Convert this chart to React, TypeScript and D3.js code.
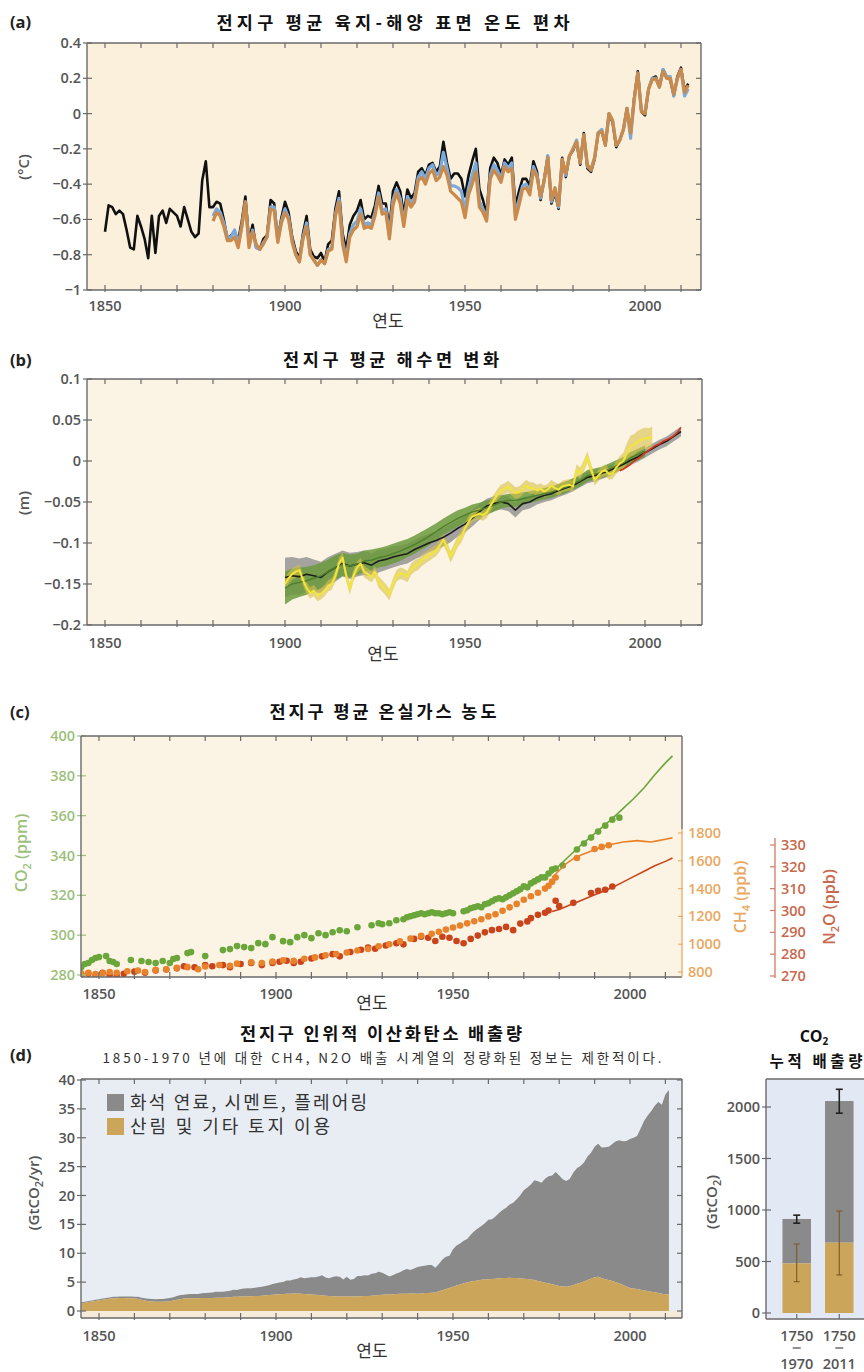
import React from "react";
import * as d3 from "d3";

// ---------- (a) global mean land-ocean surface temperature anomaly (°C) ----------
const hadcrutStart = 1850;
const hadcrut = [
  -0.67, -0.52, -0.53, -0.57, -0.55, -0.57, -0.66, -0.76, -0.77, -0.58,
  -0.64, -0.71, -0.82, -0.58, -0.79, -0.58, -0.55, -0.62, -0.54, -0.56,
  -0.58, -0.64, -0.53, -0.60, -0.67, -0.70, -0.68, -0.38, -0.27, -0.53,
  -0.53, -0.50, -0.51, -0.60, -0.71, -0.69, -0.67, -0.72, -0.61, -0.47,
  -0.72, -0.63, -0.76, -0.77, -0.71, -0.69, -0.49, -0.51, -0.71, -0.59,
  -0.50, -0.56, -0.70, -0.78, -0.82, -0.68, -0.58, -0.77, -0.81, -0.82,
  -0.79, -0.84, -0.74, -0.72, -0.54, -0.44, -0.68, -0.77, -0.63, -0.58,
  -0.55, -0.49, -0.60, -0.58, -0.59, -0.52, -0.41, -0.51, -0.51, -0.65,
  -0.44, -0.39, -0.44, -0.57, -0.43, -0.48, -0.45, -0.33, -0.31, -0.35,
  -0.29, -0.28, -0.33, -0.30, -0.16, -0.28, -0.37, -0.34, -0.34, -0.37,
  -0.47, -0.35, -0.27, -0.20, -0.43, -0.49, -0.57, -0.31, -0.25, -0.28,
  -0.35, -0.26, -0.29, -0.25, -0.52, -0.44, -0.37, -0.37, -0.41, -0.27,
  -0.33, -0.49, -0.37, -0.24, -0.51, -0.45, -0.54, -0.25, -0.36, -0.24,
  -0.21, -0.16, -0.29, -0.11, -0.31, -0.33, -0.26, -0.11, -0.10, -0.18,
  0.0, -0.05, -0.19, -0.15, -0.09, 0.03, -0.12, 0.09, 0.24, 0.01,
  -0.01, 0.14, 0.2, 0.21, 0.15, 0.25, 0.21, 0.19, 0.1, 0.21,
  0.26, 0.13, 0.17,
];
const laterStart = 1880;
const noaaTemp = [
  -0.61, -0.56, -0.58, -0.64, -0.72, -0.72, -0.70, -0.76, -0.64, -0.50,
  -0.76, -0.67, -0.74, -0.77, -0.74, -0.70, -0.54, -0.55, -0.73, -0.62,
  -0.56, -0.60, -0.73, -0.80, -0.84, -0.71, -0.64, -0.80, -0.83, -0.86,
  -0.83, -0.85, -0.78, -0.77, -0.58, -0.50, -0.74, -0.84, -0.70, -0.66,
  -0.64, -0.57, -0.65, -0.64, -0.65, -0.58, -0.47, -0.57, -0.56, -0.71,
  -0.52, -0.45, -0.51, -0.64, -0.49, -0.53, -0.50, -0.38, -0.36, -0.40,
  -0.34, -0.32, -0.38, -0.36, -0.30, -0.35, -0.44, -0.46, -0.48, -0.50,
  -0.59, -0.46, -0.40, -0.33, -0.53, -0.56, -0.61, -0.37, -0.32, -0.35,
  -0.39, -0.30, -0.33, -0.31, -0.60, -0.52, -0.43, -0.42, -0.46, -0.32,
  -0.36, -0.47, -0.38, -0.25, -0.49, -0.42, -0.52, -0.26, -0.34, -0.24,
  -0.20, -0.16, -0.28, -0.12, -0.29, -0.32, -0.25, -0.11, -0.10, -0.18,
  0.0, -0.04, -0.18, -0.15, -0.09, 0.03, -0.11, 0.08, 0.23, 0.01,
  0.0, 0.14, 0.19, 0.2, 0.15, 0.24, 0.2, 0.2, 0.11, 0.2,
  0.25, 0.12, 0.16,
];
const gissTemp = [
  -0.58, -0.54, -0.56, -0.62, -0.70, -0.70, -0.66, -0.74, -0.64, -0.50,
  -0.74, -0.66, -0.76, -0.77, -0.73, -0.70, -0.53, -0.53, -0.72, -0.61,
  -0.54, -0.59, -0.72, -0.80, -0.84, -0.70, -0.62, -0.80, -0.83, -0.86,
  -0.83, -0.85, -0.77, -0.76, -0.57, -0.48, -0.72, -0.82, -0.68, -0.63,
  -0.61, -0.54, -0.63, -0.62, -0.63, -0.56, -0.45, -0.55, -0.54, -0.69,
  -0.49, -0.43, -0.48, -0.62, -0.47, -0.51, -0.48, -0.36, -0.33, -0.37,
  -0.31, -0.29, -0.35, -0.33, -0.22, -0.31, -0.41, -0.41, -0.42, -0.44,
  -0.55, -0.42, -0.35, -0.28, -0.50, -0.54, -0.60, -0.35, -0.29, -0.32,
  -0.37, -0.28, -0.31, -0.28, -0.57, -0.49, -0.41, -0.40, -0.44, -0.30,
  -0.35, -0.48, -0.38, -0.24, -0.50, -0.43, -0.53, -0.26, -0.35, -0.24,
  -0.20, -0.15, -0.28, -0.12, -0.30, -0.32, -0.25, -0.11, -0.09, -0.17,
  0.0, -0.04, -0.18, -0.15, -0.09, 0.03, -0.14, 0.08, 0.23, 0.02,
  0.0, 0.14, 0.2, 0.2, 0.15, 0.25, 0.21, 0.21, 0.1, 0.2,
  0.25, 0.1, 0.14,
];
const tempTicks = [0.4, 0.2, 0, -0.2, -0.4, -0.6, -0.8, -1];

// ---------- (b) global mean sea level change (m): [year, value, half-width] ----------
type Band = [number, number, number];
const seaBlack: Band[] = [
  [1900, -0.142, 0.024], [1902, -0.140, 0.023], [1904, -0.141, 0.022], [1906, -0.138, 0.021],
  [1908, -0.140, 0.02], [1910, -0.142, 0.019], [1912, -0.135, 0.018], [1914, -0.130, 0.017],
  [1916, -0.125, 0.016], [1918, -0.128, 0.016], [1920, -0.126, 0.015], [1922, -0.124, 0.015],
  [1924, -0.127, 0.014], [1926, -0.122, 0.014], [1928, -0.120, 0.013], [1930, -0.117, 0.013],
  [1932, -0.115, 0.012], [1934, -0.113, 0.012], [1936, -0.108, 0.012], [1938, -0.104, 0.012],
  [1940, -0.100, 0.011], [1942, -0.097, 0.011], [1944, -0.093, 0.011], [1946, -0.088, 0.011],
  [1948, -0.082, 0.010], [1950, -0.077, 0.010], [1952, -0.070, 0.010], [1954, -0.062, 0.010],
  [1956, -0.055, 0.009], [1958, -0.052, 0.009], [1960, -0.050, 0.009], [1962, -0.052, 0.009],
  [1964, -0.060, 0.009], [1966, -0.052, 0.008], [1968, -0.050, 0.008], [1970, -0.045, 0.008],
  [1972, -0.042, 0.008], [1974, -0.040, 0.008], [1976, -0.036, 0.008], [1978, -0.033, 0.008],
  [1980, -0.030, 0.007], [1982, -0.025, 0.007], [1984, -0.020, 0.007], [1986, -0.018, 0.007],
  [1988, -0.015, 0.007], [1990, -0.012, 0.007], [1992, -0.008, 0.006], [1994, -0.004, 0.006],
  [1996, 0.001, 0.006], [1998, 0.005, 0.006], [2000, 0.010, 0.006], [2002, 0.015, 0.006],
  [2004, 0.020, 0.006], [2006, 0.024, 0.006], [2008, 0.030, 0.006], [2010, 0.036, 0.006],
];
const seaGreen: Band[] = [
  [1900, -0.155, 0.020], [1902, -0.150, 0.019], [1904, -0.148, 0.018], [1906, -0.146, 0.017],
  [1908, -0.143, 0.016], [1910, -0.140, 0.016], [1912, -0.135, 0.015], [1914, -0.130, 0.015],
  [1916, -0.126, 0.014], [1918, -0.128, 0.014], [1920, -0.126, 0.013], [1922, -0.122, 0.013],
  [1924, -0.121, 0.013], [1926, -0.118, 0.012], [1928, -0.116, 0.012], [1930, -0.113, 0.012],
  [1932, -0.110, 0.012], [1934, -0.106, 0.011], [1936, -0.102, 0.011], [1938, -0.097, 0.011],
  [1940, -0.092, 0.011], [1942, -0.086, 0.010], [1944, -0.080, 0.010], [1946, -0.075, 0.010],
  [1948, -0.070, 0.010], [1950, -0.066, 0.009], [1952, -0.062, 0.009], [1954, -0.060, 0.009],
  [1956, -0.057, 0.009], [1958, -0.054, 0.008], [1960, -0.050, 0.008], [1962, -0.048, 0.008],
  [1964, -0.048, 0.008], [1966, -0.046, 0.008], [1968, -0.044, 0.007], [1970, -0.042, 0.007],
  [1972, -0.040, 0.007], [1974, -0.038, 0.007], [1976, -0.035, 0.007], [1978, -0.032, 0.007],
  [1980, -0.028, 0.007], [1982, -0.024, 0.007], [1984, -0.018, 0.007], [1986, -0.016, 0.007],
  [1988, -0.014, 0.007], [1990, -0.010, 0.007], [1992, -0.006, 0.007], [1994, -0.002, 0.007],
  [1996, 0.004, 0.007], [1998, 0.008, 0.007], [2000, 0.012, 0.007],
];
const seaYellow: Band[] = [
  [1900, -0.150, 0.007], [1901, -0.143, 0.007], [1902, -0.138, 0.007], [1903, -0.135, 0.007],
  [1904, -0.133, 0.007], [1905, -0.145, 0.007], [1906, -0.155, 0.007], [1907, -0.161, 0.007],
  [1908, -0.158, 0.007], [1909, -0.164, 0.007], [1910, -0.162, 0.007], [1911, -0.158, 0.007],
  [1912, -0.152, 0.007], [1913, -0.150, 0.007], [1914, -0.140, 0.007], [1915, -0.125, 0.007],
  [1916, -0.118, 0.007], [1917, -0.140, 0.007], [1918, -0.156, 0.007], [1919, -0.140, 0.007],
  [1920, -0.130, 0.007], [1921, -0.125, 0.007], [1922, -0.135, 0.007], [1923, -0.138, 0.007],
  [1924, -0.141, 0.007], [1925, -0.135, 0.007], [1926, -0.148, 0.007], [1927, -0.152, 0.007],
  [1928, -0.157, 0.007], [1929, -0.163, 0.007], [1930, -0.150, 0.007], [1931, -0.140, 0.007],
  [1932, -0.137, 0.007], [1933, -0.138, 0.007], [1934, -0.141, 0.007], [1935, -0.132, 0.007],
  [1936, -0.128, 0.007], [1937, -0.126, 0.007], [1938, -0.121, 0.007], [1939, -0.118, 0.007],
  [1940, -0.115, 0.007], [1941, -0.112, 0.007], [1942, -0.109, 0.007], [1943, -0.103, 0.007],
  [1944, -0.096, 0.007], [1945, -0.105, 0.007], [1946, -0.117, 0.007], [1947, -0.108, 0.007],
  [1948, -0.098, 0.007], [1949, -0.092, 0.007], [1950, -0.082, 0.007], [1951, -0.074, 0.007],
  [1952, -0.068, 0.007], [1953, -0.066, 0.007], [1954, -0.064, 0.007], [1955, -0.066, 0.007],
  [1956, -0.063, 0.007], [1957, -0.055, 0.007], [1958, -0.048, 0.007], [1959, -0.041, 0.007],
  [1960, -0.036, 0.007], [1961, -0.034, 0.007], [1962, -0.031, 0.007], [1963, -0.035, 0.007],
  [1964, -0.039, 0.007], [1965, -0.038, 0.007], [1966, -0.034, 0.007], [1967, -0.030, 0.007],
  [1968, -0.033, 0.007], [1969, -0.033, 0.007], [1970, -0.036, 0.007], [1971, -0.034, 0.007],
  [1972, -0.037, 0.007], [1973, -0.035, 0.007], [1974, -0.030, 0.007], [1975, -0.033, 0.007],
  [1976, -0.035, 0.007], [1977, -0.031, 0.007], [1978, -0.030, 0.007], [1979, -0.029, 0.007],
  [1980, -0.031, 0.007], [1981, -0.011, 0.007], [1982, -0.015, 0.007], [1983, -0.006, 0.007],
  [1984, 0.005, 0.007], [1985, -0.010, 0.007], [1986, -0.023, 0.007], [1987, -0.018, 0.007],
  [1988, -0.013, 0.007], [1989, -0.011, 0.007], [1990, -0.016, 0.007], [1991, -0.015, 0.007],
  [1992, -0.008, 0.008], [1993, -0.003, 0.009], [1994, 0.000, 0.010], [1995, 0.010, 0.012],
  [1996, 0.018, 0.013], [1997, 0.020, 0.013], [1998, 0.024, 0.013], [1999, 0.026, 0.013],
  [2000, 0.028, 0.013], [2001, 0.027, 0.013], [2002, 0.030, 0.012],
];
const seaSatellite: [number, number][] = [
  [1993, -0.012], [1994, -0.010], [1995, -0.007], [1996, -0.004], [1997, 0.0], [1998, 0.003],
  [1999, 0.006], [2000, 0.010], [2001, 0.013], [2002, 0.016], [2003, 0.019], [2004, 0.021],
  [2005, 0.024], [2006, 0.026], [2007, 0.028], [2008, 0.031], [2009, 0.035], [2010, 0.041],
];
const seaTicks = [0.1, 0.05, 0, -0.05, -0.1, -0.15, -0.2];

// ---------- (c) greenhouse gas concentrations ----------
type Pt = [number, number];
const co2Cores: Pt[] = [
  [1845, 284], [1846, 285.5], [1847, 286], [1848, 287.5], [1849, 288.5], [1850, 289], [1852, 289.5],
  [1853, 287], [1854, 286.5], [1855, 285.5], [1859, 287.5], [1862, 287], [1864, 286.5], [1866, 286],
  [1868, 287], [1870, 286], [1871, 288], [1872, 288.5], [1875, 291], [1876, 291.5], [1880, 289.5],
  [1885, 292.5], [1887, 293], [1889, 294.5], [1891, 294], [1893, 293.5], [1895, 296], [1897, 295.5],
  [1899, 299], [1902, 297], [1904, 296.5], [1906, 299], [1908, 300], [1910, 298.5], [1912, 301],
  [1914, 300], [1916, 301.5], [1918, 302.5], [1920, 302], [1923, 304], [1927, 305], [1929, 306],
  [1930, 305.5], [1932, 306], [1934, 307.5], [1936, 308], [1937, 309], [1938, 309.5], [1939, 310],
  [1940, 310.5], [1941, 311], [1942, 310.5], [1943, 311], [1944, 311.5], [1945, 311], [1946, 311],
  [1947, 310.5], [1948, 311], [1949, 311.5], [1950, 311], [1953, 312], [1954, 312.5], [1955, 313.5],
  [1956, 314], [1957, 314.5], [1958, 314], [1959, 315.5], [1960, 316], [1961, 317], [1962, 318],
  [1963, 318.5], [1964, 318], [1965, 319], [1966, 320], [1967, 321], [1968, 322], [1969, 323],
  [1970, 324.5], [1971, 324], [1972, 326], [1973, 327], [1974, 328], [1975, 329], [1976, 329],
  [1977, 331], [1978, 333], [1979, 333.5], [1981, 335], [1985, 343], [1987, 346], [1989, 349],
  [1991, 352], [1993, 355], [1995, 358], [1997, 359],
];
const co2Direct: Pt[] = [
  [1978, 331], [1980, 335], [1983, 340], [1986, 345], [1989, 349.5], [1992, 354], [1995, 358.5],
  [1998, 363.5], [2001, 368.5], [2004, 374], [2007, 380.5], [2010, 386.5], [2012, 390],
];
const ch4Cores: Pt[] = [
  [1845, 790], [1847, 795], [1849, 785], [1851, 790], [1853, 800], [1855, 795], [1858, 805],
  [1861, 810], [1863, 800], [1866, 815], [1869, 820], [1872, 830], [1875, 835], [1878, 820],
  [1880, 840], [1884, 850], [1887, 845], [1889, 860], [1893, 870], [1896, 865], [1899, 875],
  [1902, 885], [1905, 880], [1908, 895], [1911, 905], [1914, 920], [1917, 930], [1920, 940],
  [1923, 955], [1926, 965], [1929, 985], [1932, 1000], [1935, 1020], [1938, 1040], [1941, 1060],
  [1944, 1075], [1946, 1090], [1948, 1105], [1950, 1120], [1952, 1135], [1954, 1150], [1956, 1165],
  [1958, 1180], [1960, 1200], [1962, 1215], [1964, 1240], [1966, 1265], [1968, 1290], [1970, 1320],
  [1972, 1345], [1974, 1370], [1976, 1400], [1977, 1420], [1978, 1450], [1979, 1480], [1985, 1620],
  [1990, 1685], [1992, 1700], [1994, 1712],
];
const ch4Direct: Pt[] = [
  [1978, 1480], [1980, 1530], [1982, 1580], [1984, 1615], [1986, 1640], [1988, 1660], [1990, 1680],
  [1992, 1700], [1994, 1715], [1996, 1725], [1998, 1735], [2000, 1740], [2002, 1745], [2004, 1740],
  [2006, 1735], [2008, 1745], [2010, 1755], [2012, 1765],
];
const n2oCores: Pt[] = [
  [1845, 270.5], [1847, 271], [1849, 270], [1851, 271.5], [1853, 270.5], [1855, 270], [1857, 271],
  [1860, 272], [1863, 271.5], [1866, 272.5], [1869, 273], [1872, 273.5], [1874, 274.5], [1877, 274],
  [1880, 275], [1882, 274.5], [1885, 275], [1887, 274], [1890, 275.5], [1893, 276], [1896, 275],
  [1899, 276], [1901, 276.5], [1903, 277], [1905, 276], [1907, 276.5], [1910, 278], [1913, 279],
  [1916, 280], [1918, 279], [1921, 281], [1924, 282], [1926, 283], [1928, 282.5], [1931, 284],
  [1934, 285], [1936, 284.5], [1939, 287], [1941, 288], [1943, 287.5], [1945, 286], [1947, 288],
  [1949, 287.5], [1951, 286], [1953, 285], [1955, 287], [1957, 288.5], [1959, 290], [1961, 291],
  [1963, 291.5], [1965, 292.5], [1967, 291], [1969, 294], [1971, 295], [1972, 296.5], [1974, 298],
  [1976, 299], [1977, 300], [1979, 304.5], [1980, 302], [1984, 303.5], [1989, 308], [1991, 309],
  [1993, 309.5], [1995, 311],
];
const n2oDirect: Pt[] = [
  [1978, 299.5], [1980, 300.5], [1983, 302.5], [1986, 304.5], [1989, 306.5], [1992, 308.5],
  [1995, 310.5], [1998, 313], [2001, 315.5], [2004, 318], [2007, 320.5], [2010, 322.5], [2012, 324],
];
const co2Ticks = [400, 380, 360, 340, 320, 300, 280];
const ch4Ticks = [1800, 1600, 1400, 1200, 1000, 800];
const n2oTicks = [330, 320, 310, 300, 290, 280, 270];

// ---------- (d) anthropogenic CO2 emissions (GtCO2/yr), annual from 1845 ----------
const emisStart = 1845;
const fossilCement = [
  0.15, 0.16, 0.17, 0.17, 0.18,
  0.2, 0.2, 0.21, 0.22, 0.26, 0.26, 0.28, 0.28, 0.29, 0.3,
  0.33, 0.36, 0.36, 0.39, 0.41, 0.44, 0.45, 0.48, 0.49, 0.52,
  0.55, 0.6, 0.66, 0.7, 0.66, 0.72, 0.73, 0.74, 0.75, 0.81,
  0.87, 0.91, 0.97, 1.03, 1.03, 1.03, 1.05, 1.11, 1.22, 1.2,
  1.32, 1.39, 1.39, 1.37, 1.43, 1.51, 1.55, 1.62, 1.72, 1.86,
  1.96, 2.03, 2.07, 2.28, 2.27, 2.4, 2.54, 2.86, 2.73, 2.84,
  3.01, 3.06, 3.21, 3.47, 3.13, 3.07, 3.33, 3.47, 3.42, 2.95,
  3.41, 2.92, 3.05, 3.53, 3.52, 3.57, 3.55, 3.82, 3.82, 4.05,
  3.83, 3.45, 3.13, 3.3, 3.55, 3.72, 4.05, 4.26, 4.03, 4.3,
  4.61, 4.7, 4.72, 4.85, 4.81, 4.27, 4.75, 5.3, 5.6, 5.55,
  6.5, 6.95, 7.1, 7.35, 7.5, 8.1, 8.6, 9.0, 9.3, 9.75,
  10.3, 10.35, 10.75, 11.3, 11.8, 12.2, 12.7, 13.05, 13.65, 14.4,
  15.3, 15.85, 16.45, 17.3, 17.25, 17.15, 18.0, 18.55, 18.8, 19.55,
  19.1, 18.55, 18.3, 18.6, 19.5, 20.0, 20.2, 20.6, 21.4, 21.8,
  22.6, 23.0, 22.6, 22.85, 23.1, 23.7, 24.4, 24.75, 24.9, 25.2,
  25.8, 26.1, 26.5, 27.9, 29.4, 30.4, 31.3, 32.3, 33.1, 32.7,
  34.6, 35.4,
];
const landUse = [
  1.35, 1.45, 1.55, 1.65, 1.75,
  1.85, 1.95, 2.05, 2.1, 2.2, 2.2, 2.25, 2.25, 2.2, 2.2,
  2.15, 2.1, 1.95, 1.8, 1.7, 1.65, 1.6, 1.6, 1.6, 1.65,
  1.7, 1.8, 1.95, 2.05, 2.15, 2.2, 2.2, 2.2, 2.2, 2.25,
  2.25, 2.25, 2.25, 2.3, 2.3, 2.3, 2.35, 2.4, 2.45, 2.45,
  2.5, 2.5, 2.55, 2.55, 2.6, 2.6, 2.65, 2.7, 2.75, 2.8,
  2.85, 2.9, 2.95, 3.0, 3.0, 3.05, 3.05, 3.0, 2.95, 2.9,
  2.85, 2.8, 2.75, 2.7, 2.65, 2.6, 2.55, 2.55, 2.5, 2.5,
  2.5, 2.5, 2.5, 2.55, 2.55, 2.6, 2.6, 2.65, 2.7, 2.75,
  2.8, 2.85, 2.85, 2.9, 2.95, 3.0, 3.0, 3.0, 3.05, 3.05,
  3.0, 3.05, 3.1, 3.1, 3.15, 3.2, 3.4, 3.6, 3.8, 4.0,
  4.2, 4.4, 4.6, 4.8, 4.95, 5.1, 5.2, 5.3, 5.4, 5.45,
  5.5, 5.55, 5.6, 5.65, 5.7, 5.7, 5.75, 5.7, 5.7, 5.65,
  5.6, 5.55, 5.45, 5.35, 5.2, 5.05, 4.9, 4.8, 4.65, 4.5,
  4.35, 4.25, 4.2, 4.3, 4.5, 4.7, 4.9, 5.1, 5.35, 5.6,
  5.85, 5.95, 5.7, 5.5, 5.35, 5.2, 5.0, 4.8, 4.5, 4.25,
  4.0, 3.9, 3.8, 3.7, 3.55, 3.45, 3.35, 3.25, 3.1, 3.0,
  2.9, 2.85,
];
const emisTicks = [40, 35, 30, 25, 20, 15, 10, 5, 0];
const legendLabels = ["화석 연료, 시멘트, 플레어링", "산림 및 기타 토지 이용"];

// cumulative emissions (GtCO2)
const cumPeriods = [["1750", "1970"], ["1750", "2011"]];
const cumLand = [482, 683];
const cumFossil = [431, 1375];
const cumTotalRange = [[872, 950], [1940, 2172]];
const cumLandRange = [[304, 670], [369, 990]];
const cumTicks = [2000, 1500, 1000, 500, 0];

const decadeTicks = d3.range(1850, 2011, 10);
const yearLabels = [1850, 1900, 1950, 2000];

// ---------- styling ----------
const KR = "'Noto Sans CJK KR', 'Noto Sans', sans-serif";
const NUM = "'Open Sans', 'Noto Sans', sans-serif";
const AX = "#6a6a6a";
const TXT = "#555";
const GREEN = "#6aa63a";
const CH4C = "#e8832c";
const N2OC = "#c9441c";
const GRAY = "#8a8a8a";
const TAN = "#cba65a";
const fmt = d3.format("");

type Box = { l: number; r: number; t: number; b: number };

function Frame({ box, bg }: { box: Box; bg: string }) {
  return <rect x={box.l} y={box.t} width={box.r - box.l} height={box.b - box.t} fill={bg} />;
}
function Border({ box, sides = "lrtb" }: { box: Box; sides?: string }) {
  const { l, r, t, b } = box;
  return (
    <g stroke={AX} strokeWidth={1.4} fill="none">
      {sides.includes("l") && <line x1={l} x2={l} y1={t} y2={b} />}
      {sides.includes("r") && <line x1={r} x2={r} y1={t} y2={b} />}
      {sides.includes("t") && <line x1={l} x2={r} y1={t} y2={t} />}
      {sides.includes("b") && <line x1={l} x2={r} y1={b} y2={b} />}
    </g>
  );
}
function YearAxis({ x, box, labelY, titleX, titleY }: any) {
  return (
    <g>
      <g stroke={AX} strokeWidth={1.2}>
        {decadeTicks.map((yr) => (
          <g key={yr}>
            <line x1={x(yr)} x2={x(yr)} y1={box.t} y2={box.t + 5} />
            <line x1={x(yr)} x2={x(yr)} y1={box.b - 5} y2={box.b + 2} />
          </g>
        ))}
      </g>
      {yearLabels.map((yr) => (
        <text key={yr} x={x(yr)} y={labelY} textAnchor="middle" fontFamily={NUM} fontSize={14.5} fontWeight={600} fill={TXT}>
          {yr}
        </text>
      ))}
      <text x={titleX} y={titleY} textAnchor="middle" fontFamily={KR} fontSize={17} fill="#333">
        연도
      </text>
    </g>
  );
}
function ValueAxis({ y, ticks, box, color = TXT, tickColor = AX, right = true, format = fmt }: any) {
  return (
    <g>
      {ticks.map((v: number) => (
        <g key={v}>
          <line x1={box.l - 4} x2={box.l + 5} y1={y(v)} y2={y(v)} stroke={tickColor} strokeWidth={1.2} />
          {right && <line x1={box.r - 5} x2={box.r} y1={y(v)} y2={y(v)} stroke={AX} strokeWidth={1.2} />}
          <text x={box.l - 6} y={y(v) + 5} textAnchor="end" fontFamily={NUM} fontSize={14.5} fontWeight={600} fill={color}>
            {format(v)}
          </text>
        </g>
      ))}
    </g>
  );
}
function PanelTitle({ tag, tagY, title, cx, y, len }: any) {
  return (
    <g>
      <text x={10} y={tagY} fontFamily={NUM} fontSize={16.5} fontWeight={700} fill="#222">{tag}</text>
      <text x={cx} y={y} textAnchor="middle" fontFamily={KR} fontSize={17.5} fontWeight={700} fill="#111" textLength={len} lengthAdjust="spacing">
        {title}
      </text>
    </g>
  );
}
function RotLabel({ x, y, children, color = TXT, size = 15 }: any) {
  return (
    <text transform={`translate(${x},${y}) rotate(-90)`} textAnchor="middle" fontFamily={NUM} fontSize={size} fontWeight={600} fill={color}>
      {children}
    </text>
  );
}

export default function App() {
  // ----- (a) -----
  const A: Box = { l: 87, r: 701, t: 43, b: 290 };
  const xA = d3.scaleLinear().domain([1850, 2000]).range([105, 645]);
  const yA = d3.scaleLinear().domain([-1, 0.4]).range([A.b, A.t]);
  const tempLine = (start: number) =>
    d3.line<number>().x((_, i) => xA(start + i)).y((v) => yA(v));

  // ----- (b) -----
  const B: Box = { l: 87, r: 702, t: 379, b: 625 };
  const yB = d3.scaleLinear().domain([-0.2, 0.1]).range([B.b, B.t]);
  const bandArea = d3.area<Band>().x((d) => xA(d[0])).y0((d) => yB(d[1] - d[2])).y1((d) => yB(d[1] + d[2]));
  const bandLine = d3.line<Band>().x((d) => xA(d[0])).y((d) => yB(d[1]));
  const satLine = d3.line<Pt>().x((d) => xA(d[0])).y((d) => yB(d[1]));

  // ----- (c) -----
  const C: Box = { l: 81, r: 682, t: 736, b: 977 };
  const xC = d3.scaleLinear().domain([1850, 2000]).range([99, 630]);
  const yCO2 = d3.scaleLinear().domain([280, 400]).range([975, 736]);
  const yCH4 = d3.scaleLinear().domain([800, 1800]).range([972, 833]);
  const yN2O = d3.scaleLinear().domain([270, 330]).range([976, 845]);
  const gasLine = (ys: d3.ScaleLinear<number, number>) => d3.line<Pt>().x((d) => xC(d[0])).y((d) => ys(d[1]));
  const n2oAxisX = 775;

  // ----- (d) -----
  const D: Box = { l: 81, r: 682, t: 1079, b: 1318 };
  const yD = d3.scaleLinear().domain([0, 40]).range([1311, 1080]);
  const rows = fossilCement.map((f, i) => ({ year: emisStart + i, land: landUse[i], fossil: f }));
  const stacked = d3.stack<any>().keys(["land", "fossil"])(rows);
  const stackArea = d3
    .area<any>()
    .x((d) => xC(d.data.year))
    .y0((d) => yD(d[0]))
    .y1((d) => yD(d[1]));

  // ----- (e) cumulative bars -----
  const E: Box = { l: 766, r: 872, t: 1079, b: 1319 };
  const yE = d3.scaleLinear().domain([0, 2000]).range([1313, 1107]);
  const bandNames = cumPeriods.map((p) => p.join("–"));
  const xE = d3.scaleBand().domain(bandNames).range([768, 868]).paddingInner(0.33).paddingOuter(0.34);

  return (
    <svg width={864} height={1372} style={{ position: "absolute", left: 0, top: 0, background: "#fff" }}>
      <defs>
        {[["clipA", A], ["clipB", B], ["clipC", C], ["clipD", D]].map(([id, bx]: any) => (
          <clipPath id={id} key={id}>
            <rect x={bx.l} y={bx.t} width={bx.r - bx.l} height={bx.b - bx.t} />
          </clipPath>
        ))}
      </defs>
      <rect width={864} height={1372} fill="#fff" />

      {/* ===== (a) temperature anomaly ===== */}
      <PanelTitle tag="(a)" tagY={28} title="전지구 평균 육지-해양 표면 온도 편차" cx={393} y={29} len={353} />
      <Frame box={A} bg="#fbf0dc" />
      <g clipPath="url(#clipA)" fill="none" strokeLinejoin="round">
        <path d={tempLine(hadcrutStart)(hadcrut) || ""} stroke="#111" strokeWidth={2.6} />
        <path d={tempLine(laterStart)(gissTemp) || ""} stroke="#7aa9dc" strokeWidth={3.2} />
        <path d={tempLine(laterStart)(noaaTemp) || ""} stroke="#c98a4c" strokeWidth={3.2} />
      </g>
      <ValueAxis y={yA} ticks={tempTicks} box={A} />
      <YearAxis x={xA} box={A} labelY={311} titleX={388} titleY={327} />
      <Border box={A} />
      <RotLabel x={29} y={167}>(°C)</RotLabel>

      {/* ===== (b) sea level ===== */}
      <PanelTitle tag="(b)" tagY={366} title="전지구 평균 해수면 변화" cx={391} y={366} len={216} />
      <Frame box={B} bg="#fbf3e4" />
      <g clipPath="url(#clipB)">
        <path d={bandArea(seaBlack) || ""} fill="#8e8e8e" opacity={0.8} />
        <path d={bandArea(seaGreen) || ""} fill="#6b9a3c" opacity={0.85} />
        <path d={bandArea(seaYellow) || ""} fill="#d8c14a" opacity={0.6} />
        <g fill="none" strokeLinejoin="round">
          <path d={bandLine(seaBlack) || ""} stroke="#1e1e1e" strokeWidth={1.6} />
          <path d={bandLine(seaGreen) || ""} stroke="#4f7f2c" strokeWidth={1.4} />
          <path d={bandLine(seaYellow) || ""} stroke="#f3e53c" strokeWidth={2} />
          <path d={satLine(seaSatellite) || ""} stroke="#d9321d" strokeWidth={1.6} />
        </g>
      </g>
      <ValueAxis y={yB} ticks={seaTicks} box={B} />
      <YearAxis x={xA} box={B} labelY={648} titleX={383} titleY={660} />
      <Border box={B} />
      <RotLabel x={29} y={503}>(m)</RotLabel>

      {/* ===== (c) greenhouse gases ===== */}
      <PanelTitle tag="(c)" tagY={718} title="전지구 평균 온실가스 농도" cx={383} y={718} len={227} />
      <Frame box={C} bg="#fbf3e4" />
      <g clipPath="url(#clipC)">
        {n2oCores.map(([yr, v], i) => (
          <circle key={"n" + i} cx={xC(yr)} cy={yN2O(v)} r={3.3} fill={N2OC} />
        ))}
        {ch4Cores.map(([yr, v], i) => (
          <circle key={"m" + i} cx={xC(yr)} cy={yCH4(v)} r={3.3} fill={CH4C} />
        ))}
        {co2Cores.map(([yr, v], i) => (
          <circle key={"c" + i} cx={xC(yr)} cy={yCO2(v)} r={3.3} fill={GREEN} />
        ))}
        <g fill="none" strokeWidth={1.6}>
          <path d={gasLine(yN2O)(n2oDirect) || ""} stroke={N2OC} />
          <path d={gasLine(yCH4)(ch4Direct) || ""} stroke={CH4C} />
          <path d={gasLine(yCO2)(co2Direct) || ""} stroke={GREEN} />
        </g>
      </g>
      <ValueAxis y={yCO2} ticks={co2Ticks} box={C} color="#9dbf7c" tickColor="#9dbf7c" right={false} />
      <YearAxis x={xC} box={C} labelY={999} titleX={372} titleY={1009} />
      <Border box={C} sides="ltb" />
      <line x1={C.r} x2={C.r} y1={C.t} y2={yCH4(1800) - 4} stroke={AX} strokeWidth={1.4} />
      <line x1={C.r} x2={C.r} y1={yCH4(1800) - 4} y2={C.b} stroke="#eab070" strokeWidth={1.4} />
      {ch4Ticks.map((v) => (
        <g key={v}>
          <line x1={C.r - 4} x2={C.r + 1} y1={yCH4(v)} y2={yCH4(v)} stroke="#eab070" strokeWidth={1.2} />
          <text x={C.r + 6} y={yCH4(v) + 5} fontFamily={NUM} fontSize={14.5} fontWeight={600} fill="#e9a862">{v}</text>
        </g>
      ))}
      <line x1={n2oAxisX} x2={n2oAxisX} y1={yN2O(330) - 7} y2={C.b + 1} stroke="#cf7a62" strokeWidth={1.3} />
      {n2oTicks.map((v) => (
        <g key={v}>
          <line x1={n2oAxisX - 5} x2={n2oAxisX} y1={yN2O(v)} y2={yN2O(v)} stroke="#cf7a62" strokeWidth={1.2} />
          <text x={n2oAxisX + 6} y={yN2O(v) + 5} fontFamily={NUM} fontSize={14.5} fontWeight={600} fill="#c8684c">{v}</text>
        </g>
      ))}
      <RotLabel x={27} y={853} color="#9dbf7c" size={16}>
        CO<tspan dy={4} fontSize={11}>2</tspan>
        <tspan dy={-4}> (ppm)</tspan>
      </RotLabel>
      <RotLabel x={746} y={897} color="#e9a862" size={16}>
        CH<tspan dy={4} fontSize={11}>4</tspan>
        <tspan dy={-4}> (ppb)</tspan>
      </RotLabel>
      <RotLabel x={835} y={907} color="#c8684c" size={16}>
        N<tspan dy={4} fontSize={11}>2</tspan>
        <tspan dy={-4}>O (ppb)</tspan>
      </RotLabel>

      {/* ===== (d) emissions ===== */}
      <PanelTitle tag="(d)" tagY={1061} title="전지구 인위적 이산화탄소 배출량" cx={381} y={1040} len={282} />
      <text x={382} y={1063} textAnchor="middle" fontFamily={KR} fontSize={13.5} fill="#333" textLength={559} lengthAdjust="spacing">
        1850-1970 년에 대한 CH4, N2O 배출 시계열의 정량화된 정보는 제한적이다.
      </text>
      <Frame box={D} bg="#e8edf4" />
      <rect x={D.l} y={yD(0)} width={D.r - D.l} height={D.b - yD(0)} fill="#f4ecd9" />
      <g clipPath="url(#clipD)">
        <path d={stackArea(stacked[1] as any) || ""} fill={GRAY} />
        <path d={stackArea(stacked[0] as any) || ""} fill={TAN} />
      </g>
      {legendLabels.map((lab, i) => (
        <g key={lab}>
          <rect x={107} y={1094 + i * 24} width={17} height={17} fill={i === 0 ? GRAY : TAN} />
          <text x={130} y={1109 + i * 24} fontFamily={KR} fontSize={18} fill="#333" textLength={i === 0 ? 237 : 200} lengthAdjust="spacing">
            {lab}
          </text>
        </g>
      ))}
      <ValueAxis y={yD} ticks={emisTicks} box={D} />
      <YearAxis x={xC} box={D} labelY={1341} titleX={372} titleY={1357} />
      <Border box={D} />
      <RotLabel x={39} y={1193}>
        (GtCO<tspan dy={4} fontSize={11}>2</tspan>
        <tspan dy={-4}>/yr)</tspan>
      </RotLabel>

      {/* ===== cumulative bars ===== */}
      <text x={814} y={1042} textAnchor="middle" fontFamily={NUM} fontSize={16} fontWeight={700} fill="#111">
        CO<tspan dy={3} fontSize={10}>2</tspan>
      </text>
      <text x={816} y={1067} textAnchor="middle" fontFamily={KR} fontSize={15.5} fontWeight={700} fill="#111" textLength={93} lengthAdjust="spacing">
        누적 배출량
      </text>
      <Frame box={E} bg="#e3e9f4" />
      {bandNames.map((name, i) => {
        const x0 = xE(name) as number;
        const w = xE.bandwidth();
        const cx = x0 + w / 2;
        const total = cumLand[i] + cumFossil[i];
        return (
          <g key={name}>
            <rect x={x0} y={yE(total)} width={w} height={yE(cumLand[i]) - yE(total)} fill={GRAY} />
            <rect x={x0} y={yE(cumLand[i])} width={w} height={yE(0) - yE(cumLand[i])} fill={TAN} />
            <g stroke="#7a5a22" strokeWidth={1.1}>
              <line x1={cx} x2={cx} y1={yE(cumLandRange[i][0])} y2={yE(cumLandRange[i][1])} />
              <line x1={cx - 3} x2={cx + 3} y1={yE(cumLandRange[i][0])} y2={yE(cumLandRange[i][0])} />
              <line x1={cx - 3} x2={cx + 3} y1={yE(cumLandRange[i][1])} y2={yE(cumLandRange[i][1])} />
            </g>
            <g stroke="#222" strokeWidth={1.6}>
              <line x1={cx} x2={cx} y1={yE(cumTotalRange[i][0])} y2={yE(cumTotalRange[i][1])} />
              <line x1={cx - 3.5} x2={cx + 3.5} y1={yE(cumTotalRange[i][0])} y2={yE(cumTotalRange[i][0])} />
              <line x1={cx - 3.5} x2={cx + 3.5} y1={yE(cumTotalRange[i][1])} y2={yE(cumTotalRange[i][1])} />
            </g>
            <line x1={cx} x2={cx} y1={E.b - 5} y2={E.b} stroke={AX} strokeWidth={1.2} />
            <text x={cx} y={1341} textAnchor="middle" fontFamily={NUM} fontSize={14.5} fontWeight={600} fill={TXT}>
              {cumPeriods[i][0]}
            </text>
            <line x1={cx - 4} x2={cx + 4} y1={1348} y2={1348} stroke={TXT} strokeWidth={1.3} />
            <text x={cx} y={1369} textAnchor="middle" fontFamily={NUM} fontSize={14.5} fontWeight={600} fill={TXT}>
              {cumPeriods[i][1]}
            </text>
          </g>
        );
      })}
      <ValueAxis y={yE} ticks={cumTicks} box={E} right={false} />
      <Border box={E} sides="ltb" />
      <RotLabel x={717} y={1202}>
        (GtCO<tspan dy={4} fontSize={11}>2</tspan>
        <tspan dy={-4}>)</tspan>
      </RotLabel>
    </svg>
  );
}
